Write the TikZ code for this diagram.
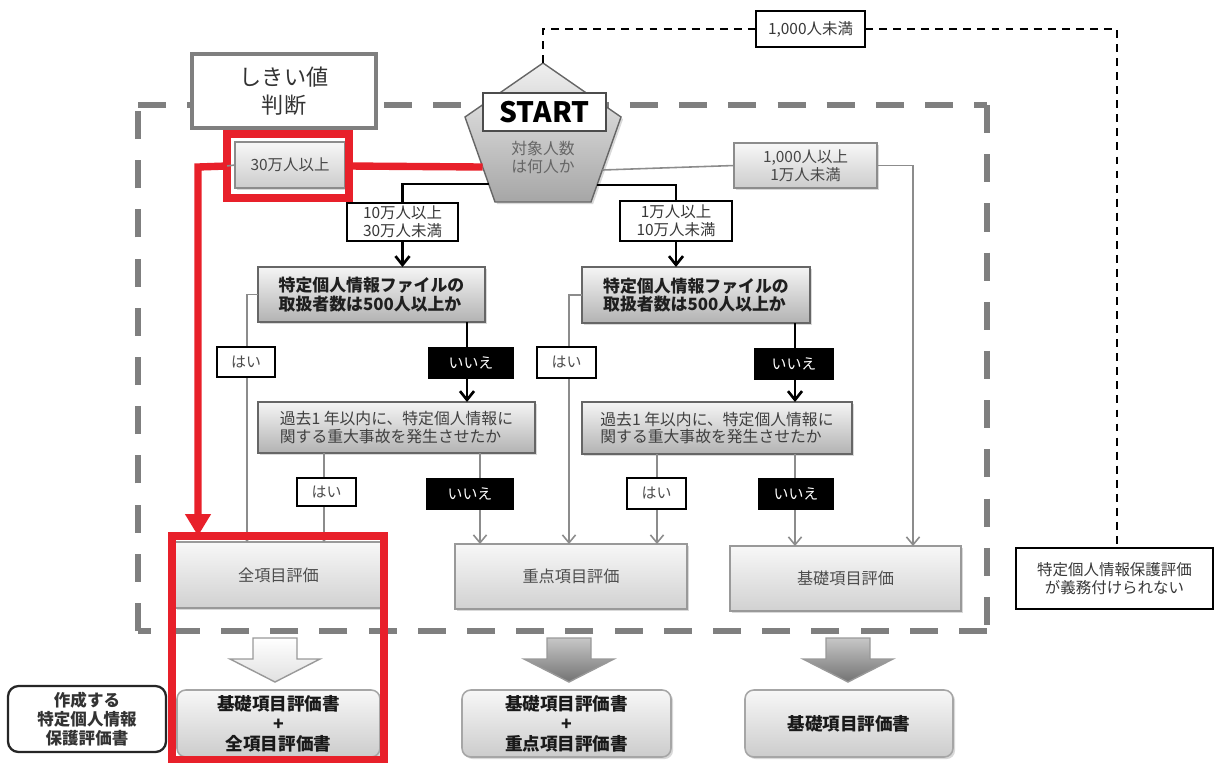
\documentclass[tikz,border=0pt]{standalone}
\usepackage{fontspec}
\setmainfont{Noto Sans CJK JP}
\usetikzlibrary{arrows.meta,shadows,calc}
\definecolor{hlred}{HTML}{E8202A}
\definecolor{lg}{HTML}{8C8C8C}
\definecolor{dg}{HTML}{7F7F7F}
\newcommand\bxn[7]{\node[#6,minimum width={(#4-#2)*0.02cm},minimum height={(#5-#3)*0.02cm}] (#1) at ({(#2+#4)/2},{(#3+#5)/2}) {#7};}
\newcommand\myfs[2]{\fontsize{#1}{#2}\selectfont}
\newcommand\blockarr[2]{\path[#2] ({#1-22},638) -- ({#1+22},638) -- ({#1+22},659) -- ({#1+45},659) -- (#1,682) -- ({#1-45},659) -- ({#1-22},659) -- cycle;}
\begin{document}
\begin{tikzpicture}[x=0.02cm,y=-0.02cm,
  base/.style={inner sep=0pt,outer sep=0pt,align=center},
  shad/.style={drop shadow={shadow xshift=1.2pt,shadow yshift=-1.2pt,opacity=0.3}},
  thbox/.style={base,draw=dg,line width=2.6pt,fill=white,text=black!80,font=\myfs{12.6}{16}},
  startbox/.style={base,draw=black!70,line width=1.3pt,fill=white,text=black,font=\bfseries\myfs{16}{18}},
  penta/.style={draw=black!60,line width=0.8pt,top color=black!6,bottom color=black!35,shad},
  gbox/.style={base,draw=black!45,line width=0.8pt,top color=black!3,bottom color=black!20,shad,text=black!72,font=\myfs{8.8}{10.2}},
  rlbox/.style={base,draw=black,line width=1.4pt,fill=white,text=black!78,font=\myfs{8.8}{10.2}},
  qbox/.style={base,draw=black!60,line width=0.9pt,top color=black!4,bottom color=black!30,shad,text=black!88,align=left,font=\bfseries\myfs{9.6}{10.6}},
  kbox/.style={base,draw=black!60,line width=0.9pt,top color=black!4,bottom color=black!30,shad,text=black!75,align=left,font=\myfs{9}{10}},
  resbox/.style={base,draw=black!40,line width=0.9pt,top color=black!3,bottom color=black!18,shad,text=black!70,font=\myfs{9.2}{11}},
  docbox/.style={base,draw=black!35,line width=0.9pt,rounded corners=5pt,top color=black!3,bottom color=black!20,shad,text=black!90,font=\bfseries\myfs{10}{11.3}},
  lgbox/.style={base,draw=black!85,line width=1.3pt,rounded corners=6pt,fill=white,text=black!80,font=\bfseries\myfs{9.4}{10.8}},
  yesbox/.style={base,draw=black,line width=1.3pt,fill=white,text=black!70,font=\myfs{8.5}{10}},
  nobox/.style={base,draw=black,line width=1.3pt,fill=black,text=white,font=\myfs{8.5}{10}},
  redbox/.style={base,draw=hlred,line width=4.2pt},
  gline/.style={draw=lg,line width=0.9pt},
  garrow/.style={gline,-{Straight Barb[length=4.5pt,width=7.5pt]}},
  bline/.style={draw=black,line width=1.5pt},
  barrow/.style={bline,-{Straight Barb[length=5pt,width=8pt]}},
  redline/.style={draw=hlred,line width=4.2pt},
  kdash/.style={draw=black,line width=1.2pt,dash pattern=on 4.5pt off 3.5pt},
  frame/.style={dg,line width=3.6pt,dash pattern=on 16pt off 12pt},
  lightarr/.style={draw=black!40,line width=0.8pt,top color=white,bottom color=black!12},
  darkarr/.style={draw=black!40,line width=0.8pt,top color=black!22,bottom color=black!55}
]
\useasboundingbox (0,0) rectangle (1217,762);

% big gray dashed frame
\draw[frame] (138,105) -- (987,105);
\draw[frame] (987,105) -- (987,631);
\draw[frame] (987,631) -- (138,631);
\draw[frame] (138,631) -- (138,105);

% threshold box
\bxn{th}{192}{54}{376}{128}{thbox}{しきい値\\判断}

% pentagon
\coordinate (ptop) at (543,63);
\path[penta] (ptop) -- (621,117) -- (591,202) -- (495,202) -- (465,117) -- cycle;
\coordinate (pL167) at (482.6,167);
\coordinate (pL184) at (488.6,184);
\coordinate (pR185) at (597,185);
\coordinate (pR170) at (602.3,170);
\node[base,font=\myfs{9}{10.3},text=black!60] (ptext) at (543,157) {対象人数\\は何人か};
\bxn{start}{483}{93}{606}{131}{startbox}{START}

% boxes
\bxn{g30}{235}{142}{345}{188}{gbox}{30万人以上}
\bxn{g1k}{734}{143}{877}{188}{gbox}{1,000人以上\\1万人未満}
\bxn{b10}{347}{203}{458}{241}{rlbox}{10万人以上\\30万人未満}
\bxn{b1m}{620}{201}{732}{241}{rlbox}{1万人以上\\10万人未満}
\bxn{n1k}{756}{11}{865}{47}{rlbox}{1,000人未満}
\bxn{q1}{258}{267}{485}{322}{qbox}{特定個人情報ファイルの\\取扱者数は500人以上か}
\bxn{q2}{582}{267}{810}{323}{qbox}{特定個人情報ファイルの\\取扱者数は500人以上か}
\bxn{k1}{258}{402}{535}{453}{kbox}{過去1 年以内に、特定個人情報に\\関する重大事故を発生させたか}
\bxn{k2}{582}{402}{852}{454}{kbox}{過去1 年以内に、特定個人情報に\\関する重大事故を発生させたか}
\bxn{zen}{175}{542}{382}{608}{resbox}{全項目評価}
\bxn{ju}{455}{544}{687}{609}{resbox}{重点項目評価}
\bxn{ki}{730}{546}{961}{611}{resbox}{基礎項目評価}
\bxn{nno}{1016}{548}{1213}{609}{rlbox}{特定個人情報保護評価\\が義務付けられない}
\bxn{d1}{177}{690}{380}{757}{docbox}{基礎項目評価書\\+\\全項目評価書}
\bxn{d2}{462}{690}{671}{757}{docbox}{基礎項目評価書\\+\\重点項目評価書}
\bxn{d3}{745}{690}{953}{757}{docbox}{基礎項目評価書}
\bxn{lgd}{8}{686}{166}{752}{lgbox}{作成する\\特定個人情報\\保護評価書}

% block arrows
\blockarr{275}{lightarr}
\blockarr{569}{darkarr}
\blockarr{848}{darkarr}

% dashed black route (1,000人未満)
\coordinate (dtop) at (543,29);
\coordinate (dright) at (1117,29);
\draw[kdash] (ptop) -- (dtop) -- (n1k.west);
\draw[kdash] (n1k.east) -- (dright) -- (dright |- nno.north);

% connectors from pentagon
\draw[gline] (pL167) -- (g30.east);
\draw[bline] (pL184) -| (b10.north);
\draw[barrow] (b10.south) -- (b10.south |- q1.north);
\draw[bline] (pR185) -| (b1m.north);
\draw[barrow] (b1m.south) -- (b1m.south |- q2.north);
\draw[gline] (pR170) -- (g1k.west);
\draw[garrow] (g1k.east) -| ($(ki.north west)+(183,0)$);

% left column
\draw[garrow] (q1.west) -| ($(zen.north west)+(72,0)$);
\draw[barrow] ($(q1.south west)+(209,0)$) -- ($(k1.north west)+(209,0)$);
\draw[garrow] ($(k1.south west)+(66,0)$) -- ($(zen.north west)+(149,0)$);
\draw[garrow] ($(k1.south west)+(222,0)$) -- ($(ju.north west)+(25,0)$);

% right column
\draw[garrow] (q2.west) -| ($(ju.north west)+(114,0)$);
\draw[barrow] ($(q2.south west)+(213,0)$) -- ($(k2.north west)+(213,0)$);
\draw[garrow] ($(k2.south west)+(75,0)$) -- ($(ju.north west)+(202,0)$);
\draw[garrow] ($(k2.south west)+(213,0)$) -- ($(ki.north west)+(65,0)$);

% labels
\bxn{y1}{217}{347}{275}{377}{yesbox}{はい}
\bxn{n1}{429}{348}{513}{378}{nobox}{いいえ}
\bxn{y2}{297}{478}{356}{506}{yesbox}{はい}
\bxn{n2}{427}{479}{513}{509}{nobox}{いいえ}
\bxn{y3}{537}{347}{596}{378}{yesbox}{はい}
\bxn{n3}{755}{349}{833}{379}{nobox}{いいえ}
\bxn{y4}{627}{478}{686}{509}{yesbox}{はい}
\bxn{n4}{759}{479}{833}{509}{nobox}{いいえ}

% red highlight
\bxn{r30}{227}{134}{349}{198}{redbox}{}
\bxn{rbig}{172}{536}{384}{760}{redbox}{}
\draw[gline] (g30.west) -- (r30.west);
\coordinate (rc) at (198,167);
\draw[redline] (pL167) -- (r30.east);
\draw[redline,-{Triangle[length=12.5pt,width=14pt]}] (r30.west) -- (rc) -- (rc |- rbig.north);
\end{tikzpicture}
\end{document}
